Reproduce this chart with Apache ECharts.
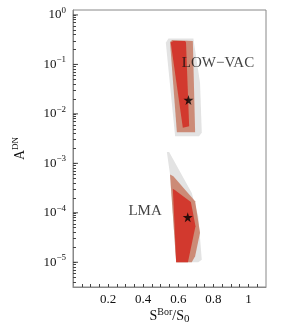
<!DOCTYPE html>
<html><head><meta charset="utf-8">
<script src="https://cdn.jsdelivr.net/npm/echarts@6/dist/echarts.min.js"></script>
<style>html,body{margin:0;padding:0;background:#fff}#c{width:304px;height:335px}</style>
</head><body><div id="c"></div>
<script>
// x = S^Bor/S0, y = log10(A^DN)
const lowVacOuter = [[0.529,-0.56],[0.544,-0.478],[0.686,-0.478],[0.724,-1.37],[0.734,-2.38],[0.718,-2.45],[0.582,-2.45]];
const lowVacMid   = [[0.553,-0.547],[0.565,-0.506],[0.683,-0.526],[0.696,-2.37],[0.592,-2.37]];
const lowVacInner = [[0.557,-0.559],[0.572,-0.526],[0.639,-0.526],[0.644,-0.559],[0.662,-2.25],[0.626,-2.28]];
const lmaOuter = [[0.535,-2.77],[0.548,-2.77],[0.677,-3.6],[0.714,-4.07],[0.734,-4.95],[0.714,-5.0],[0.588,-5.0],[0.553,-3.225]];
const lmaMid   = [[0.553,-3.225],[0.572,-3.259],[0.696,-3.765],[0.724,-4.405],[0.696,-4.879],[0.677,-5.0],[0.588,-5.0]];
const lmaInner = [[0.569,-3.514],[0.582,-3.543],[0.672,-3.78],[0.698,-4.27],[0.655,-5.0],[0.588,-5.0]];
const bestFits = [[0.658,-1.72],[0.654,-4.09]];
const regionLabels = [{name:'LOW\u2212VAC', value:[0.62,-0.98]},{name:'LMA', value:[0.506,-3.97]}];
const xTickLabels = [0.2,0.4,0.6,0.8,1];
const yDecades = [-5,-4,-3,-2,-1,0];

const colors = {outer:'#e3e3e3', mid:'#cc8b77', inner:'#d2392e'};
const yMin = -5.5, yMax = 0.1;
const minorY = [];
for (let n = -6; n <= 0; n++) for (let k = 2; k <= 9; k++) {
  const v = n + Math.log10(k);
  if (v > yMin && v < yMax) minorY.push(v);
}
const allY = yDecades.concat(minorY);
const xTicks = [];
for (let i = 1; i < 22; i++) xTicks.push(+(i*0.05).toFixed(2));

function poly(data, color) {
  return {
    type:'custom', data:data, silent:true,
    renderItem:function(params, api){
      if (params.dataIndex !== 0) return;
      const pts = data.map(p => api.coord(p));
      return {type:'polygon', shape:{points:pts}, style:{fill:color, stroke:null}};
    }
  };
}
const serif = 'Liberation Serif, Times New Roman, serif';
const star = 'path://M50,0 L61,35 L98,35 L68,57 L79,91 L50,70 L21,91 L32,57 L2,35 L39,35 Z';

const chart = echarts.init(document.getElementById('c'));
chart.setOption({
  animation:false,
  grid:{left:73, right:38, top:10, bottom:48, show:true, borderColor:'#888', borderWidth:1},
  xAxis:{
    type:'value', min:0, max:1.1,
    axisLine:{show:true, onZero:false, lineStyle:{color:'#888'}},
    axisTick:{show:true, inside:true, length:3, customValues:xTicks, lineStyle:{color:'#444'}},
    splitLine:{show:false},
    axisLabel:{customValues:xTickLabels, fontFamily:serif, fontSize:13, color:'#111', margin:6,
      formatter:v => String(v)},
    name:'{a|S}{s|Bor}{a|/S}{d|0}', nameLocation:'middle', nameGap:20, nameMoveOverlap:false,
    nameTextStyle:{rich:{
      a:{fontFamily:serif, fontSize:14, color:'#111'},
      s:{fontFamily:serif, fontSize:10, color:'#111', padding:[0,0,9,0]},
      d:{fontFamily:serif, fontSize:11, color:'#111', padding:[5,0,0,0]}
    }}
  },
  yAxis:{
    type:'value', min:yMin, max:yMax,
    axisLine:{show:true, onZero:false, lineStyle:{color:'#888'}},
    axisTick:{show:true, inside:true, length:3, customValues:allY, lineStyle:{color:'#444'}},
    splitLine:{show:false},
    axisLabel:{customValues:yDecades, margin:7,
      formatter:v => '{b|10}{s|' + (v === 0 ? '0' : '\u2212' + Math.abs(v)) + '}',
      rich:{
        b:{fontFamily:serif, fontSize:13, color:'#111'},
        s:{fontFamily:serif, fontSize:9, color:'#111', padding:[0,0,9,0]}
      }},
    name:'{a|A}{s|DN}', nameLocation:'middle', nameGap:44, nameRotate:90, nameMoveOverlap:false,
    nameTextStyle:{rich:{
      a:{fontFamily:serif, fontSize:14, color:'#111'},
      s:{fontFamily:serif, fontSize:9, color:'#111', padding:[0,0,9,0]}
    }}
  },
  series:[
    poly(lowVacOuter, colors.outer), poly(lowVacMid, colors.mid), poly(lowVacInner, colors.inner),
    poly(lmaOuter, colors.outer), poly(lmaMid, colors.mid), poly(lmaInner, colors.inner),
    {type:'custom', silent:true, clip:false, data:yDecades.map(v => [0, v]),
      renderItem:function(params, api){
        const p = api.coord([0, api.value(1)]);
        return {type:'line', shape:{x1:p[0], y1:p[1], x2:p[0]+5, y2:p[1]},
          style:{stroke:'#444', lineWidth:1}};
      }},
    {type:'scatter', data:bestFits, symbol:star, symbolSize:10, itemStyle:{color:'#000'}, silent:true},
    {type:'scatter', symbolSize:0, silent:true,
      data:[
        {name:regionLabels[0].name, value:regionLabels[0].value, label:{align:'left'}},
        {name:regionLabels[1].name, value:regionLabels[1].value, label:{align:'right'}}
      ],
      label:{show:true, formatter:p => p.name, fontFamily:serif, fontSize:15, color:'#111', position:'inside'}}
  ]
});
</script></body></html>
